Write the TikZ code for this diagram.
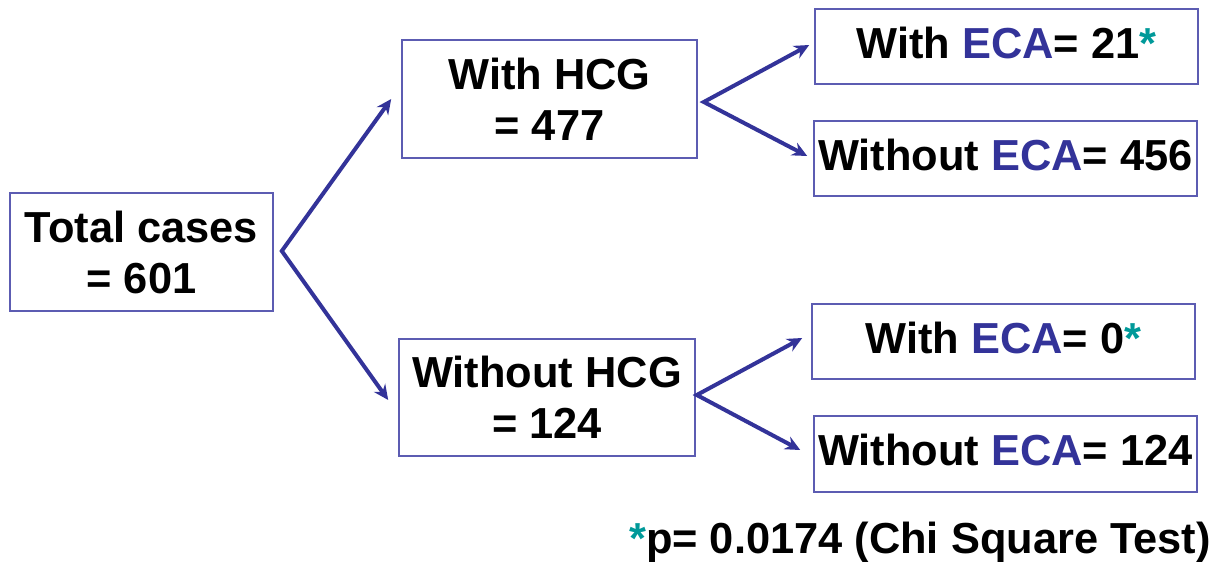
\documentclass[tikz,border=0pt]{standalone}
\usepackage{fontspec}
\setmainfont{Liberation Sans}
\usetikzlibrary{arrows.meta,calc}
\definecolor{boxline}{RGB}{92,92,178}
\definecolor{flow}{RGB}{51,51,153}
\definecolor{star}{RGB}{0,153,153}
\newcommand{\eca}{\textcolor{flow}{ECA}}
\newcommand{\st}{\textcolor{star}{*}}
\tikzset{
  txt/.style={font=\fontsize{43.4}{51}\selectfont\bfseries},
  box/.style={txt, draw=boxline, line width=1.6pt, rectangle, inner sep=0pt,
    align=center},
  bigbox/.style={box, minimum height=118pt},
  leaf/.style={box, minimum width=383pt, minimum height=75pt, text depth=8pt},
  fork/.style={draw=flow, line width=4pt, line join=miter,
    {Stealth[length=15pt,width=14pt,inset=5pt]}-{Stealth[length=15pt,width=14pt,inset=5pt]}}
}
\begin{document}
\begin{tikzpicture}[x=1pt,y=-1pt]
\useasboundingbox (0,0) rectangle (1218,564);

% boxes
\node[bigbox, minimum width=263pt] (total) at (141.5,252) {Total cases\\= 601};
\node[bigbox, minimum width=295pt] (hcg) at (549.5,99) {With HCG\\= 477};
\node[bigbox, minimum width=296pt, minimum height=117pt] (nohcg) at (547,397.5) {Without HCG\\= 124};

\node[leaf] (eca21) at (1006.5,46.5) {With \eca= 21\st};
\node[leaf] (eca456) at (1005.5,158.5) {Without \eca= 456};
\node[leaf] (eca0) at (1003.5,341.5) {With \eca= 0\st};
\node[leaf, minimum height=76pt] (eca124) at (1005.5,454) {Without \eca= 124};

% branch points
\coordinate (f0) at ($(total.east)+(8,-1)$);
\coordinate (f1) at ($(hcg.east)+(6,3)$);
\coordinate (f2) at ($(nohcg.east)+(1,-2.5)$);

% forked arrows
\draw[fork] ($(hcg.west)+(-10,0)$) -- (f0) -- ($(nohcg.west)+(-10,2.5)$);
\draw[fork] ($(eca21.west)+(-5,-1.5)$) -- (f1) -- ($(eca456.west)+(-6,-2.5)$);
\draw[fork] ($(eca0.west)+(-9,-3.5)$) -- (f2) -- ($(eca124.west)+(-13,-4)$);

% footnote
\node[txt, anchor=base east, inner sep=0pt] (note) at (1211,553) {\st p= 0.0174 (Chi Square Test)};
\end{tikzpicture}
\end{document}
